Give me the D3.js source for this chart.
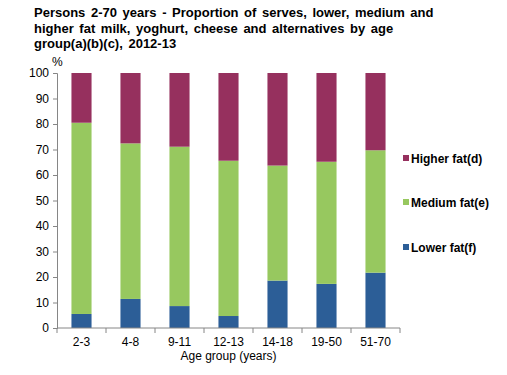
<!DOCTYPE html>
<html>
<head>
<meta charset="utf-8">
<script src="https://cdn.jsdelivr.net/npm/d3@7"></script>
<style>
  body { margin: 0; background: #fff; }
  svg { font-family: "Liberation Sans", Arial, sans-serif; }
</style>
</head>
<body>
<div id="wrapper"></div>
<script>
const ageGroups = ["2-3", "4-8", "9-11", "12-13", "14-18", "19-50", "51-70"];
const lowerFat = [5.5, 11.4, 8.6, 4.7, 18.6, 17.3, 21.7];
const mediumFat = [75.0, 61.0, 62.5, 60.9, 45.1, 47.9, 48.0];
const higherFat = [19.5, 27.6, 28.9, 34.4, 36.3, 34.8, 30.3];
const seriesNames = ["Lower fat(f)", "Medium fat(e)", "Higher fat(d)"];
const seriesColors = ["#2C5E97", "#97C85F", "#96305E"];
const yTicks = [0, 10, 20, 30, 40, 50, 60, 70, 80, 90, 100];

const rows = ageGroups.map((g, i) => ({
    group: g,
    "Lower fat(f)": lowerFat[i],
    "Medium fat(e)": mediumFat[i],
    "Higher fat(d)": higherFat[i]
}));

const dimension = {
    width: 507,
    height: 375,
    margin: { top: 73, left: 57, bottom: 47, right: 107 }
};
dimension.boundedWidth = dimension.width - dimension.margin.left - dimension.margin.right;
dimension.boundedHeight = dimension.height - dimension.margin.top - dimension.margin.bottom;

const svg = d3.select("#wrapper").append("svg")
    .attr("width", dimension.width)
    .attr("height", dimension.height);

// title
const title = svg.append("text")
    .attr("x", 34)
    .attr("y", 17)
    .style("font-size", "13px")
    .style("font-weight", "bold")
    .style("word-spacing", "2px")
    .attr("fill", "#000");
["Persons 2-70 years - Proportion of serves, lower, medium and",
 "higher fat milk, yoghurt, cheese and alternatives by age",
 "group(a)(b)(c),  2012-13"].forEach((t, i) => {
    title.append("tspan").attr("x", 34).attr("dy", i === 0 ? 0 : 15.5).text(t);
});

const bounded = svg.append("g")
    .attr("transform", `translate(${dimension.margin.left},${dimension.margin.top})`);

const xScaler = d3.scaleBand()
    .domain(ageGroups)
    .range([0, dimension.boundedWidth])
    .paddingInner(0.59)
    .paddingOuter(0.295);

const yScaler = d3.scaleLinear()
    .domain([0, 100])
    .range([dimension.boundedHeight, 0]);

const stacked = d3.stack().keys(seriesNames)(rows);

bounded.selectAll("g.series")
    .data(stacked)
    .join("g")
    .attr("class", "series")
    .attr("fill", (d, i) => seriesColors[i])
    .selectAll("rect")
    .data(d => d)
    .join("rect")
    .attr("x", d => xScaler(d.data.group))
    .attr("width", xScaler.bandwidth())
    .attr("y", d => yScaler(d[1]))
    .attr("height", d => yScaler(d[0]) - yScaler(d[1]));

// y axis
const yAxis = d3.axisLeft(yScaler).tickValues(yTicks).tickSize(4).tickPadding(4);
const yG = bounded.append("g").call(yAxis);
yG.select(".domain").attr("stroke", "#868686");
yG.selectAll(".tick line").attr("stroke", "#868686");
yG.selectAll(".tick text").style("font-size", "12px").attr("fill", "#000");

// x axis with boundary ticks
const xG = bounded.append("g").attr("transform", `translate(0,${dimension.boundedHeight})`);
xG.append("line")
    .attr("x1", 0).attr("x2", dimension.boundedWidth)
    .attr("y1", 0).attr("y2", 0)
    .attr("stroke", "#868686");
const step = xScaler.step();
d3.range(ageGroups.length + 1).forEach(i => {
    xG.append("line")
        .attr("x1", i * step).attr("x2", i * step)
        .attr("y1", 0).attr("y2", 5)
        .attr("stroke", "#868686");
});
xG.selectAll("text.xl")
    .data(ageGroups)
    .join("text")
    .attr("class", "xl")
    .attr("x", d => xScaler(d) + xScaler.bandwidth() / 2)
    .attr("y", 18)
    .attr("text-anchor", "middle")
    .style("font-size", "12px")
    .text(d => d);

svg.append("text")
    .attr("x", dimension.margin.left + dimension.boundedWidth / 2)
    .attr("y", 360)
    .attr("text-anchor", "middle")
    .style("font-size", "12px")
    .text("Age group (years)");

svg.append("text")
    .attr("x", 52)
    .attr("y", 66)
    .style("font-size", "12px")
    .text("%");

// legend
const legendY = [247, 202, 158];
const legend = svg.append("g");
seriesNames.forEach((name, i) => {
    legend.append("rect")
        .attr("x", 403)
        .attr("y", legendY[i] - 3)
        .attr("width", 6)
        .attr("height", 6)
        .attr("fill", seriesColors[i]);
    legend.append("text")
        .attr("x", 411)
        .attr("y", legendY[i] + 4.5)
        .style("font-size", "12px")
        .style("font-weight", "bold")
        .text(name);
});
</script>
</body>
</html>
